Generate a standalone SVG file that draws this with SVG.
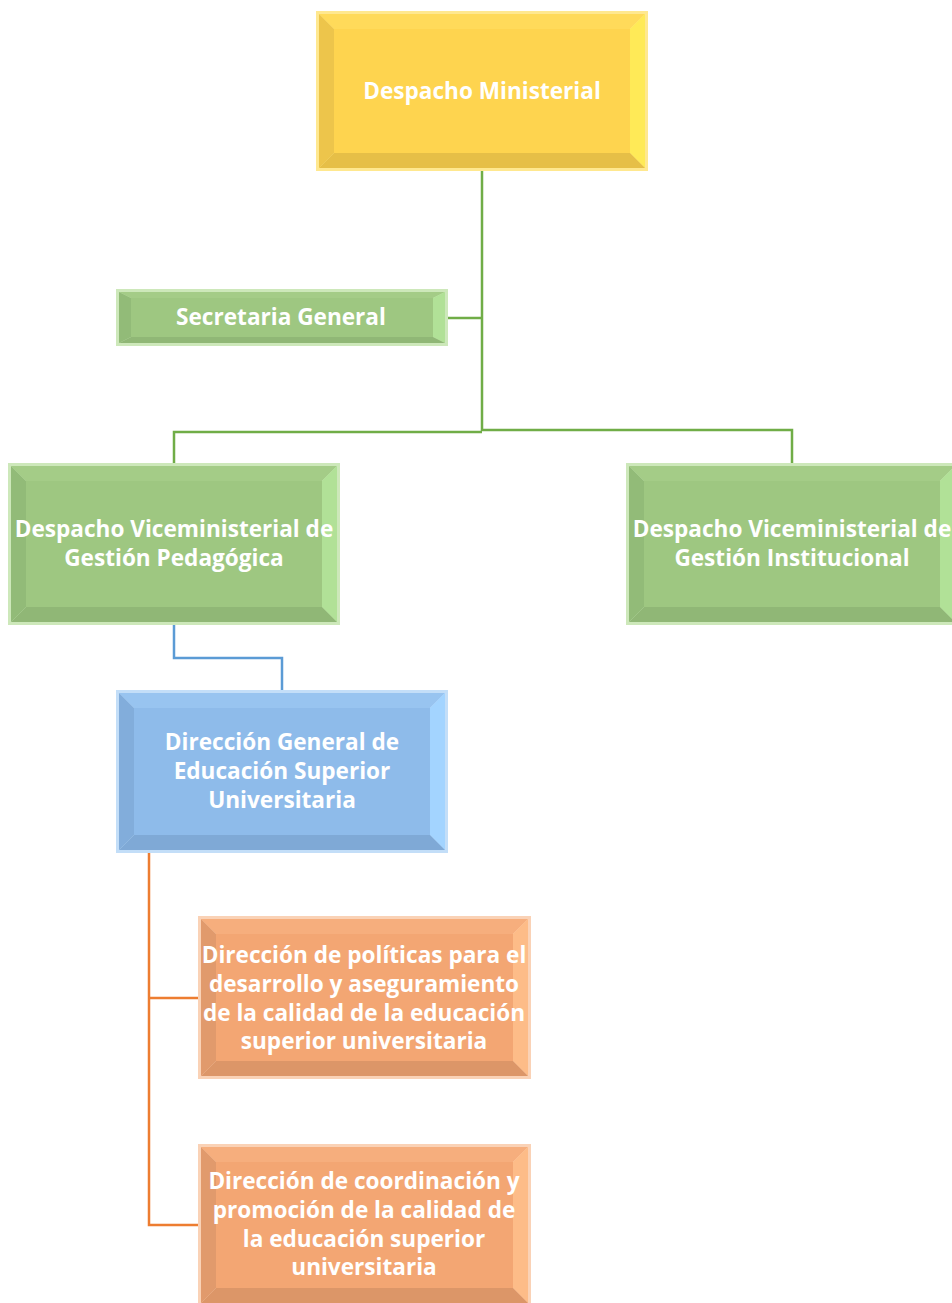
<svg xmlns="http://www.w3.org/2000/svg" width="952" height="1303" viewBox="0 0 952 1303">
<style>
.t{font-family:"Open Sans","Liberation Sans",Arial,sans-serif;font-weight:bold;font-size:22.6px;fill:#ffffff;text-anchor:middle}
.g{stroke:#70AD47;stroke-width:2.5;fill:none}
.b{stroke:#5B9BD5;stroke-width:2.5;fill:none}
.o{stroke:#ED7D31;stroke-width:2.5;fill:none}
.y .out{fill:#FFE88F}.y .top{fill:#FFDA5A}.y .lf{fill:#EDC54B}.y .rt{fill:#FFEA57}.y .bt{fill:#E6BF47}.y .mid{fill:#FED44F}
.gr .out{fill:#CDE8BA}.gr .top{fill:#A4CC87}.gr .lf{fill:#92BB78}.gr .rt{fill:#B1E197}.gr .bt{fill:#90B776}.gr .mid{fill:#9EC781}
.bl .out{fill:#C3DEF8}.bl .top{fill:#98C4F0}.bl .lf{fill:#82ADDB}.bl .rt{fill:#A3D4FF}.bl .bt{fill:#7FA9D6}.bl .mid{fill:#8EBBEA}
.or .out{fill:#FAD2B6}.or .top{fill:#F6AE7D}.or .lf{fill:#E19A6C}.or .rt{fill:#FDBC88}.or .bt{fill:#DC9668}.or .mid{fill:#F3A673}
</style>
<g id="connectors">
<path class="g" d="M482 169 V431 M446 318 H482 M174 465 V432 H482 M482 430 H792 V465"/>
<path class="b" d="M174 623 V658 H282 V692"/>
<path class="o" d="M149 851 V1225 H200 M149 998 H200"/>
</g>
<g id="n1" class="y">
<rect class="out" x="316" y="11" width="332" height="160"/>
<polygon class="top" points="319,14 645,14 630,29 334,29"/>
<polygon class="lf" points="319,14 334,29 334,153 319,168"/>
<polygon class="rt" points="645,14 645,168 630,153 630,29"/>
<polygon class="bt" points="319,168 334,153 630,153 645,168"/>
<rect class="mid" x="334" y="29" width="296" height="124"/>
<text class="t" x="482" y="99">Despacho Ministerial</text>
</g>
<g id="n2" class="gr">
<rect class="out" x="116" y="289" width="332" height="57"/>
<polygon class="top" points="119,292 445,292 433,298 131,298"/>
<polygon class="lf" points="119,292 131,298 131,337 119,343"/>
<polygon class="rt" points="445,292 445,343 433,337 433,298"/>
<polygon class="bt" points="119,343 131,337 433,337 445,343"/>
<rect class="mid" x="131" y="298" width="302" height="39"/>
<text class="t" x="281" y="325">Secretaria General</text>
</g>
<g id="n3" class="gr">
<rect class="out" x="8" y="463" width="332" height="162"/>
<polygon class="top" points="11,466 337,466 322,481 26,481"/>
<polygon class="lf" points="11,466 26,481 26,607 11,622"/>
<polygon class="rt" points="337,466 337,622 322,607 322,481"/>
<polygon class="bt" points="11,622 26,607 322,607 337,622"/>
<rect class="mid" x="26" y="481" width="296" height="126"/>
<text class="t" x="174" y="537">Despacho Viceministerial de</text>
<text class="t" x="174" y="566">Gestión Pedagógica</text>
</g>
<g id="n4" class="gr">
<rect class="out" x="626" y="463" width="332" height="162"/>
<polygon class="top" points="629,466 955,466 940,481 644,481"/>
<polygon class="lf" points="629,466 644,481 644,607 629,622"/>
<polygon class="rt" points="955,466 955,622 940,607 940,481"/>
<polygon class="bt" points="629,622 644,607 940,607 955,622"/>
<rect class="mid" x="644" y="481" width="296" height="126"/>
<text class="t" x="792" y="537">Despacho Viceministerial de</text>
<text class="t" x="792" y="566">Gestión Institucional</text>
</g>
<g id="n5" class="bl">
<rect class="out" x="116" y="690" width="332" height="163"/>
<polygon class="top" points="119,693 445,693 430,708 134,708"/>
<polygon class="lf" points="119,693 134,708 134,835 119,850"/>
<polygon class="rt" points="445,693 445,850 430,835 430,708"/>
<polygon class="bt" points="119,850 134,835 430,835 445,850"/>
<rect class="mid" x="134" y="708" width="296" height="127"/>
<text class="t" x="282" y="750">Dirección General de</text>
<text class="t" x="282" y="779">Educación Superior</text>
<text class="t" x="282" y="808">Universitaria</text>
</g>
<g id="n6" class="or">
<rect class="out" x="198" y="916" width="333" height="163"/>
<polygon class="top" points="201,919 528,919 513,934 216,934"/>
<polygon class="lf" points="201,919 216,934 216,1061 201,1076"/>
<polygon class="rt" points="528,919 528,1076 513,1061 513,934"/>
<polygon class="bt" points="201,1076 216,1061 513,1061 528,1076"/>
<rect class="mid" x="216" y="934" width="297" height="127"/>
<text class="t" x="364" y="963">Dirección de políticas para el</text>
<text class="t" x="364" y="992">desarrollo y aseguramiento</text>
<text class="t" x="364" y="1021">de la calidad de la educación</text>
<text class="t" x="364" y="1049">superior universitaria</text>
</g>
<g id="n7" class="or">
<rect class="out" x="198" y="1144" width="333" height="162"/>
<polygon class="top" points="201,1147 528,1147 513,1162 216,1162"/>
<polygon class="lf" points="201,1147 216,1162 216,1288 201,1303"/>
<polygon class="rt" points="528,1147 528,1303 513,1288 513,1162"/>
<polygon class="bt" points="201,1303 216,1288 513,1288 528,1303"/>
<rect class="mid" x="216" y="1162" width="297" height="126"/>
<text class="t" x="364" y="1189">Dirección de coordinación y</text>
<text class="t" x="364" y="1218">promoción de la calidad de</text>
<text class="t" x="364" y="1247">la educación superior</text>
<text class="t" x="364" y="1275">universitaria</text>
</g>
</svg>
